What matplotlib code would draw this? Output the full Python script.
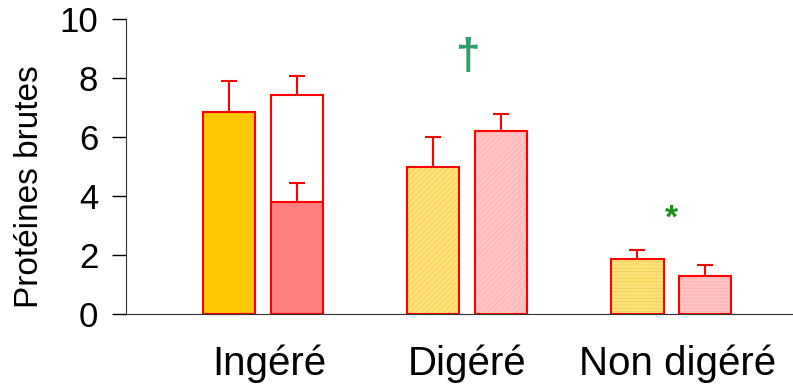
import matplotlib
matplotlib.use("Agg")
import matplotlib.pyplot as plt
import numpy as np

plt.rcParams['font.family'] = ['Liberation Sans', 'DejaVu Sans']
plt.rcParams['hatch.linewidth'] = 0.6

categories = ["Ingéré", "Digéré", "Non digéré"]
# first bar of each group (yellow/orange)
vals_a = [6.84, 4.97, 1.87]
err_a = [1.07, 1.02, 0.31]
# second bar of each group (pink)
vals_b = [7.43, 6.19, 1.28]
err_b = [0.63, 0.58, 0.37]
# lower part of the stacked Ingéré pink bar
ing_lower = 3.79
ing_lower_err = 0.64
yticks = [0, 2, 4, 6, 8, 10]

fig = plt.figure(figsize=(7.93, 3.90), dpi=100)
ax = fig.add_axes([126/793, 76/390, (793-126)/793, (314-19)/390])

x = np.arange(len(categories))
off = 0.1655
w = 0.255
red = "#FF0000"

# Ingéré
ax.bar(x[0]-off, vals_a[0], w, color="#FFC800", edgecolor=red, linewidth=1.5, zorder=2)
ax.bar(x[0]+off, vals_b[0], w, color="white", edgecolor=red, linewidth=1.5, zorder=2)
ax.bar(x[0]+off, ing_lower, w, color="#FF8080", edgecolor=red, linewidth=1.5, zorder=3)

# Digéré (diagonal fine hatch)
ax.bar(x[1]-off, vals_a[1], w, color="#FFE27A", edgecolor="#F5CF55", hatch="//////", linewidth=0, zorder=2)
ax.bar(x[1]+off, vals_b[1], w, color="#FFC4C4", edgecolor="#FFB0B0", hatch="//////", linewidth=0, zorder=2)
# Non digéré (horizontal fine hatch)
ax.bar(x[2]-off, vals_a[2], w, color="#FFE27A", edgecolor="#F5CF55", hatch="-----", linewidth=0, zorder=2)
ax.bar(x[2]+off, vals_b[2], w, color="#FFC4C4", edgecolor="#FFB0B0", hatch="-----", linewidth=0, zorder=2)
for i in (1, 2):
    ax.bar(x[i]-off, vals_a[i], w, fill=False, edgecolor=red, linewidth=1.5, zorder=3)
    ax.bar(x[i]+off, vals_b[i], w, fill=False, edgecolor=red, linewidth=1.5, zorder=3)

ekw = dict(fmt="none", ecolor=red, elinewidth=1.5, capsize=6, capthick=1.5, zorder=1)
ax.errorbar(x-off, vals_a, yerr=[np.zeros(3), err_a], **ekw)
ax.errorbar(x+off, vals_b, yerr=[np.zeros(3), err_b], **ekw)
ax.errorbar([x[0]+off], [ing_lower], yerr=[[0], [ing_lower_err]], **dict(ekw, zorder=4))

ax.text(x[1], 8.7, "†", color="#2E9E6A", fontsize=32, ha="center", va="center", fontweight="bold")
ax.text(x[2], 3.22, "*", color="#1E8C1E", fontsize=24, ha="center", va="center", fontweight="bold")

ax.set_xlim(-0.67, 2.596)
ax.set_ylim(0, 10)
ax.set_yticks(yticks)
ax.set_yticklabels([str(t) for t in yticks], fontsize=25)
label_shift = np.array([0.03, 0.0, 0.03])
ax.set_xticks(x + label_shift)
ax.set_xticklabels(categories, fontsize=29)
ax.tick_params(axis="x", length=0, pad=22)
ax.tick_params(axis="y", length=10, width=1, direction="out", pad=10)
fig.text(30/793, 1 - 187/390, "Protéines brutes", fontsize=24, rotation=90,
         ha="center", va="center")
ax.spines["top"].set_visible(False)
ax.spines["right"].set_visible(False)
ax.spines["left"].set_color("#333333")
ax.spines["bottom"].set_color("#333333")

fig.savefig("out.png", dpi=100)
